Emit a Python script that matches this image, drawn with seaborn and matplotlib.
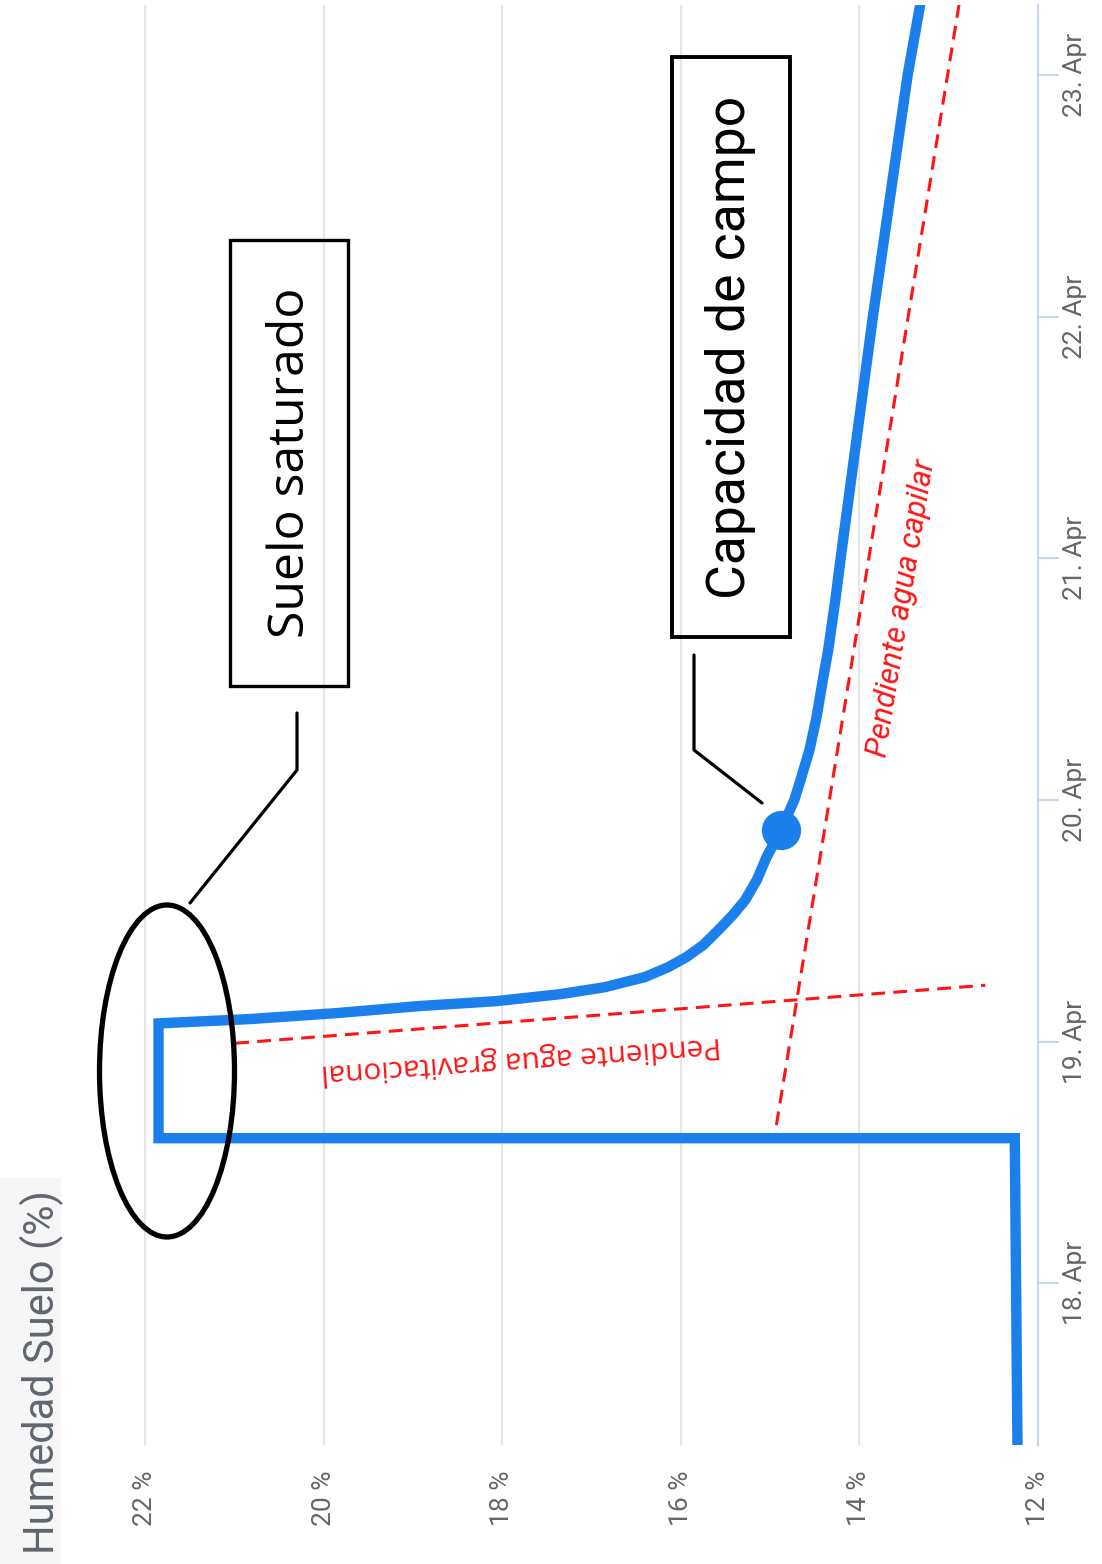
import matplotlib
matplotlib.use('Agg')
import matplotlib.pyplot as plt
from matplotlib.patches import Rectangle, Ellipse
from matplotlib.lines import Line2D
import seaborn as sns

sns.set_style('white')
plt.rcParams['font.family'] = ['Roboto', 'DejaVu Sans']

# datos: fecha = dia de abril (fraccion), humedad en %
fecha = [17.33, 18.60, 18.60, 19.075, 19.093, 19.118, 19.147, 19.167, 19.196, 19.225,
         19.267, 19.308, 19.349, 19.399, 19.461, 19.523, 19.585, 19.668, 19.763, 19.875,
         19.999, 20.070, 20.206, 20.343, 20.496, 20.620, 20.827, 21.001, 21.998, 23.000,
         23.290]
humedad = [12.23, 12.26, 21.85, 21.85, 20.82, 19.84, 18.92, 18.07, 17.35, 16.85,
           16.40, 16.14, 15.94, 15.75, 15.58, 15.42, 15.28, 15.15, 15.04, 14.88,
           14.73, 14.67, 14.56, 14.48, 14.41, 14.35, 14.27, 14.21, 13.85, 13.46,
           13.32]

cc_fecha = [19.875]
cc_humedad = [14.88]

capilar_fecha = [18.654, 23.29]
capilar_humedad = [14.93, 12.885]
gravit_fecha = [18.993, 19.233]
gravit_humedad = [20.99, 12.59]

hum_ticks = [12, 14, 16, 18, 20, 22]
hum_labels = ['12 %', '14 %', '16 %', '18 %', '20 %', '22 %']
fecha_ticks = [18, 19, 20, 21, 22, 23]
fecha_labels = ['18. Apr', '19. Apr', '20. Apr', '21. Apr', '22. Apr', '23. Apr']

AZUL = '#1b80ec'
ROJO = '#ff1414'
GRIS = '#666666'

W, H = 1102, 1564
def fx(px):
    return px / W
def fy(py):
    return 1 - py / H

fig = plt.figure(figsize=(W / 100, H / 100), dpi=100)
ax = fig.add_axes([fx(88), fy(1445), fx(1038) - fx(88), fy(5) - fy(1445)])

# curva de humedad (grafico girado 90 grados)
sns.lineplot(x=humedad, y=fecha, sort=False, estimator=None, color=AZUL,
             linewidth=7.5, solid_joinstyle='miter', ax=ax, zorder=4)
sns.scatterplot(x=cc_humedad, y=cc_fecha, s=800, color=AZUL, linewidth=0, ax=ax, zorder=5)

ax.plot(capilar_humedad, capilar_fecha, color=ROJO, lw=2.2, dashes=(4.5, 2.7), zorder=3)
ax.plot(gravit_humedad, gravit_fecha, color=ROJO, lw=2.2, dashes=(4.5, 2.7), zorder=3)

ax.set_xlim(22.64, 12)
ax.set_ylim(17.33, 23.29)
ax.set_xticks(hum_ticks)
ax.set_xticklabels(hum_labels, rotation=90)
ax.yaxis.tick_right()
ax.set_yticks(fecha_ticks)
ax.set_yticklabels(fecha_labels, rotation=90, va='center')
ax.tick_params(axis='x', length=0, pad=18, labelsize=19, labelcolor=GRIS)
ax.tick_params(axis='y', length=15, width=1.5, color='#ccd6eb', pad=3,
               labelsize=19, labelcolor=GRIS, direction='out')
ax.grid(axis='x', color='#e6e6e6', lw=1.5)
ax.grid(axis='y', visible=False)
for s in ['left', 'top', 'bottom']:
    ax.spines[s].set_visible(False)
ax.spines['right'].set_color('#ccd6eb')
ax.spines['right'].set_linewidth(1.5)
ax.set_xlabel('')
ax.set_ylabel('')

# titulo del eje
fig.add_artist(Rectangle((0, 0), fx(60), fy(1178), transform=fig.transFigure,
                         color='#f6f6f6', zorder=0))
fig.text(fx(42), fy(1372), 'Humedad Suelo (%)', rotation=90, ha='center', va='center',
         fontsize=30, color='#5f6670')

# anotaciones
fig.add_artist(Ellipse((fx(167), fy(1071)), 135 / W, 332 / H, transform=fig.transFigure,
                       fill=False, ec='black', lw=3.8))
fig.add_artist(Rectangle((fx(230), fy(686)), 118 / W, 446 / H, transform=fig.transFigure,
                         fill=False, ec='black', lw=2.4))
fig.add_artist(Rectangle((fx(672), fy(637)), 118 / W, 580 / H, transform=fig.transFigure,
                         fill=False, ec='black', lw=2.8))
fig.add_artist(Line2D([fx(297), fx(297), fx(190)], [fy(713), fy(770), fy(903)],
                      transform=fig.transFigure, color='black', lw=2.3))
fig.add_artist(Line2D([fx(694), fx(694), fx(762)], [fy(655), fy(750), fy(803)],
                      transform=fig.transFigure, color='black', lw=2.3))

fig.text(fx(291), fy(463), 'Suelo saturado', rotation=90, ha='center', va='center',
         fontsize=36, family=['Open Sans', 'DejaVu Sans'], color='black')
fig.text(fx(731), fy(347), 'Capacidad de campo', rotation=90, ha='center', va='center',
         fontsize=38.5, color='black')
fig.text(fx(902), fy(608), 'Pendiente agua capilar', rotation=80.8, rotation_mode='anchor',
         ha='center', va='center', fontsize=22, style='italic', color=ROJO)
fig.text(fx(521), fy(1058), 'Pendiente agua gravitacional', rotation=184, rotation_mode='anchor',
         ha='center', va='center', fontsize=21.5, family=['Open Sans', 'DejaVu Sans'], color=ROJO)

fig.savefig('out.png', dpi=100)
